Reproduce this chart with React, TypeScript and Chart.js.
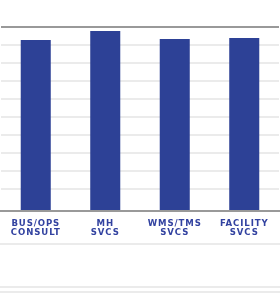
import React, { useEffect, useRef } from "react";
import { Chart, registerables } from "chart.js";

Chart.register(...registerables);

const CATEGORIES: string[][] = [
  ["BUS/OPS", "CONSULT"],
  ["MH", "SVCS"],
  ["WMS/TMS", "SVCS"],
  ["FACILITY", "SVCS"],
];
const VALUES: number[] = [92.8, 97.8, 93.3, 93.9];
const Y_MIN = -2;
const Y_MAX = 100;
const Y_STEP = 10;

const BLUE = "#2d4196";

const letterSpacingPlugin = {
  id: "letterSpacing",
  beforeDraw(chart: any) {
    (chart.ctx as any).letterSpacing = "0.9px";
  },
  afterDraw(chart: any) {
    (chart.ctx as any).letterSpacing = "0px";
  },
};

export default function App() {
  const ref = useRef<HTMLCanvasElement | null>(null);

  useEffect(() => {
    document.body.style.margin = "0";
    if (!ref.current) return;
    const chart = new Chart(ref.current, {
      type: "bar",
      data: {
        labels: CATEGORIES,
        datasets: [
          {
            data: VALUES,
            backgroundColor: BLUE,
            borderWidth: 0,
            base: Y_MIN,
            barPercentage: 0.432,
            categoryPercentage: 1,
          } as any,
        ],
      },
      plugins: [letterSpacingPlugin],
      options: {
        animation: false,
        responsive: false,
        maintainAspectRatio: false,
        layout: { padding: { top: 27, left: 1, right: 1, bottom: 0 } },
        plugins: {
          legend: { display: false },
          tooltip: { enabled: false },
        },
        scales: {
          x: {
            grid: { display: false, drawTicks: false },
            border: { display: true, color: "#999999", width: 2 },
            ticks: {
              color: "#3242a0",
              padding: 7,
              maxRotation: 0,
              autoSkip: false,
              font: {
                family: "'Liberation Sans Narrow', 'DejaVu Sans Condensed', sans-serif",
                size: 9.5,
                weight: "bold",
                lineHeight: 1.05,
              },
            },
          },
          y: {
            min: Y_MIN,
            max: Y_MAX,
            ticks: { display: false, stepSize: Y_STEP },
            border: { display: false },
            grid: {
              drawTicks: false,
              lineWidth: 2,
              color: (ctx: any) => {
                const v = ctx.tick ? ctx.tick.value : 0;
                if (v >= Y_MAX) return "#999999";
                if (v <= 0) return "rgba(0,0,0,0)";
                return "#ebebeb";
              },
            },
          },
        },
      },
    });
    return () => chart.destroy();
  }, []);

  return (
    <div style={{ position: "relative", width: 280, height: 299, background: "#fff", overflow: "hidden" }}>
      <canvas ref={ref} width={280} height={245} style={{ position: "absolute", left: 0, top: 0 }} />
      <div style={{ position: "absolute", left: 0, top: 243, width: 280, height: 2, background: "#ebebeb" }} />
      <div style={{ position: "absolute", left: 0, top: 286, width: 280, height: 2, background: "#ebebeb" }} />
      <div style={{ position: "absolute", left: 0, top: 291, width: 280, height: 2, background: "#ebebeb" }} />
    </div>
  );
}
